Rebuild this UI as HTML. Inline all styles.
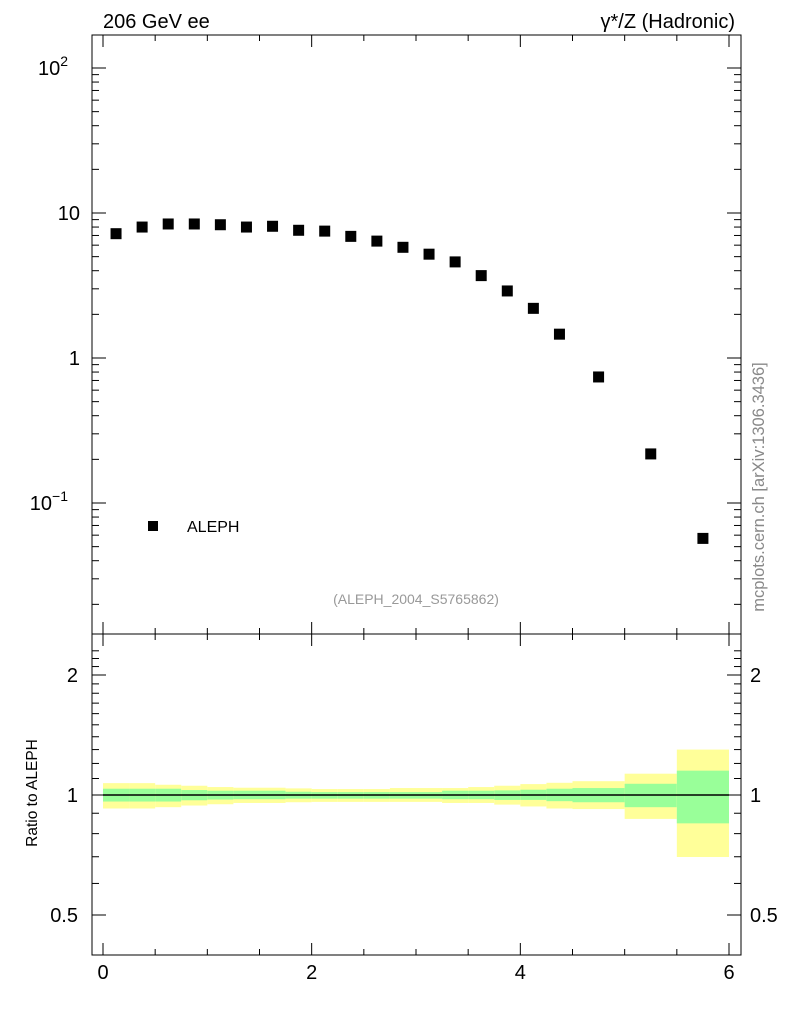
<!DOCTYPE html>
<html><head><meta charset="utf-8"><style>
body{margin:0;background:#fff;}
svg{display:block;font-family:"Liberation Sans",sans-serif;}
</style></head><body>
<svg id="chart" width="786" height="1024" viewBox="0 0 786 1024" xmlns="http://www.w3.org/2000/svg">
<g id="bands"></g>
<g id="marks"></g>
<g id="axes"></g>
<text x="103" y="28" font-size="20">206 GeV ee</text>
<text x="735" y="28" font-size="20" text-anchor="end">γ*/Z (Hadronic)</text>
<text transform="translate(764,487) rotate(-90)" font-size="16.5" fill="#888" text-anchor="middle">mcplots.cern.ch [arXiv:1306.3436]</text>
<text x="416" y="604" font-size="14" fill="#999" text-anchor="middle">(ALEPH_2004_S5765862)</text>
<rect x="148" y="521" width="10" height="10" fill="#000"/>
<text x="187" y="532" font-size="16">ALEPH</text>
<text transform="translate(37,793) rotate(-90)" font-size="15.5" text-anchor="middle">Ratio to ALEPH</text>
</svg>
<script>
const xCenters=[0.125,0.375,0.625,0.875,1.125,1.375,1.625,1.875,2.125,2.375,2.625,2.875,3.125,3.375,3.625,3.875,4.125,4.375,4.75,5.25,5.75];
const yValues=[7.2,8.0,8.4,8.4,8.3,8.0,8.1,7.6,7.5,6.9,6.4,5.8,5.2,4.6,3.7,2.9,2.2,1.46,0.74,0.218,0.057];
const binEdges=[0,0.25,0.5,0.75,1,1.25,1.5,1.75,2,2.25,2.5,2.75,3,3.25,3.5,3.75,4,4.25,4.5,5,5.5,6];
const yellowHi=[1.071,1.071,1.061,1.055,1.047,1.043,1.043,1.039,1.035,1.035,1.035,1.041,1.041,1.041,1.047,1.055,1.065,1.073,1.083,1.131,1.300];
const yellowLo=[.925,.925,.932,.941,.948,.955,.955,.959,.961,.961,.961,.961,.961,.955,.955,.946,.936,.925,.922,.871,.699];
const greenHi=[1.037,1.037,1.037,1.029,1.025,1.025,1.025,1.019,1.017,1.017,1.017,1.017,1.017,1.025,1.025,1.027,1.031,1.037,1.041,1.067,1.151];
const greenLo=[.963,.963,.963,.970,.974,.976,.976,.979,.979,.979,.979,.979,.979,.976,.976,.972,.972,.965,.959,.932,.849];
const xTicks=[0,2,4,6];
const NS="http://www.w3.org/2000/svg";
const L=92,R=741,T=35,M=634,B=955;
const X=v=>103+v*(729-103)/6;
const Y=v=>358-Math.log10(v)*145;
const YR=v=>795-Math.log10(v)/Math.log10(2)*120;
function mk(p,tag,at){const e=document.createElementNS(NS,tag);for(const k in at)e.setAttribute(k,at[k]);p.appendChild(e);return e;}
const bands=document.getElementById('bands'),marks=document.getElementById('marks'),axes=document.getElementById('axes');
for(let i=0;i<yellowHi.length;i++){
 const x0=X(binEdges[i]),x1=X(binEdges[i+1]);
 const y=mk(bands,'rect',{x:x0,y:YR(yellowHi[i]),width:x1-x0,height:YR(yellowLo[i])-YR(yellowHi[i]),fill:'#ffff99'});
 
 
 const g=mk(bands,'rect',{x:x0,y:YR(greenHi[i]),width:x1-x0,height:YR(greenLo[i])-YR(greenHi[i]),fill:'#99ff99'});
 
 
}
const rl=mk(bands,'line',{x1:X(0),x2:X(6),y1:YR(1),y2:YR(1),stroke:'#000','stroke-width':1.5});


for(let i=0;i<xCenters.length;i++){
 const r=mk(marks,'rect',{x:X(xCenters[i])-5.5,y:Y(yValues[i])-5.5,width:11,height:11,fill:'#000'});
 
 
}
mk(axes,'rect',{x:L,y:T,width:R-L,height:M-T,fill:'none',stroke:'#000','stroke-width':1});
mk(axes,'rect',{x:L,y:M,width:R-L,height:B-M,fill:'none',stroke:'#000','stroke-width':1});
for(let v=0;v<=6.001;v+=0.5){
 const major=Math.abs(v-Math.round(v/2)*2)<1e-6;const len=major?12:6;const x=X(v);
 [[T,1],[M,-1],[M,1],[B,-1]].forEach(([y0,d])=>mk(axes,'line',{x1:x,x2:x,y1:y0,y2:y0+d*len,stroke:'#000'}));
}
xTicks.forEach(v=>{const t=mk(axes,'text',{x:X(v),y:979,'font-size':20,'text-anchor':'middle'});t.textContent=v;
 
 });
for(let e=-2;e<=2;e++){for(let m=1;m<10;m++){const v=m*Math.pow(10,e);const y=Y(v);if(y<T||y>M)continue;const len=m==1?14:7;
 mk(axes,'line',{x1:L,x2:L+len,y1:y,y2:y,stroke:'#000'});mk(axes,'line',{x1:R,x2:R-len,y1:y,y2:y,stroke:'#000'});}}
[[100,'10','2'],[10,'10',''],[1,'1',''],[0.1,'10','−1']].forEach(([v,b,s])=>{const t=mk(axes,'text',{x:s?68:80,y:Y(v)+7,'font-size':20,'text-anchor':'end'});
 t.textContent=b;if(s){const ts=mk(t,'tspan',{dy:-9,'font-size':14});ts.textContent=s;}
 
 });
[0.5,0.6,0.7,0.8,0.9,1,1.1,1.2,1.3,1.4,1.5,1.6,1.7,1.8,1.9,2].forEach(v=>{const y=YR(v);const major=[0.5,1,2].includes(v);const len=major?14:7;
 mk(axes,'line',{x1:L,x2:L+len,y1:y,y2:y,stroke:'#000'});mk(axes,'line',{x1:R,x2:R-len,y1:y,y2:y,stroke:'#000'});});
for(let v=2.1;v<=2.4;v+=0.1){const y=YR(v);if(y<M)continue;mk(axes,'line',{x1:L,x2:L+7,y1:y,y2:y,stroke:'#000'});mk(axes,'line',{x1:R,x2:R-7,y1:y,y2:y,stroke:'#000'});}
[[2,'2'],[1,'1'],[0.5,'0.5']].forEach(([v,s])=>{
 const t=mk(axes,'text',{x:78,y:YR(v)+7,'font-size':20,'text-anchor':'end'});t.textContent=s;
 
 
 const t2=mk(axes,'text',{x:750,y:YR(v)+7,'font-size':20});t2.textContent=s;
 
 });
</script>
</body></html>
